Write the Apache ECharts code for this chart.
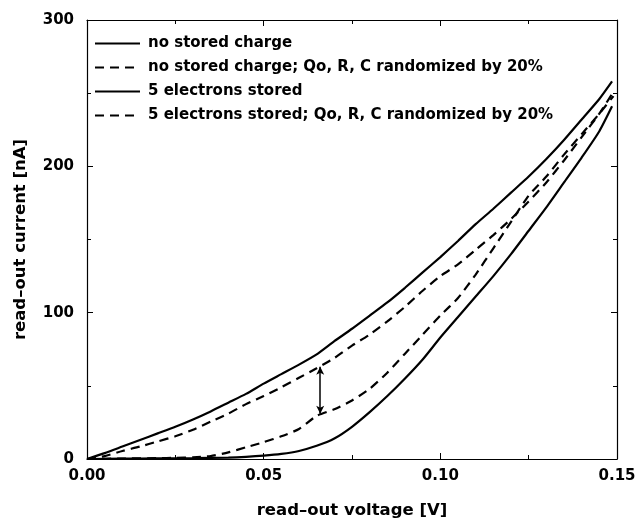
<!DOCTYPE html>
<html><head><meta charset="utf-8">
<script src="https://cdn.jsdelivr.net/npm/echarts@6/dist/echarts.min.js"></script>
<style>html,body{margin:0;padding:0;background:#fff}#c{width:642px;height:524px}</style>
</head><body><div id="c"></div><script>
const seriesNames = [
  'no stored charge',
  'no stored charge; Qo, R, C randomized by 20%',
  '5 electrons stored',
  '5 electrons stored; Qo, R, C randomized by 20%'
];
const xTicks = ['0.00', '0.05', '0.10', '0.15'];
const yTicks = ['0', '100', '200', '300'];

// no stored charge (solid)
const v1 = [0, 0.005, 0.01, 0.015, 0.02, 0.025, 0.03, 0.035, 0.04, 0.045, 0.05, 0.055, 0.06, 0.065, 0.07, 0.075, 0.08, 0.085, 0.09, 0.095, 0.10, 0.105, 0.11, 0.115, 0.12, 0.125, 0.13, 0.135, 0.14, 0.145, 0.1486];
const i1 = [0, 4, 8.5, 13, 17.5, 22, 27, 32.5, 38.5, 44.5, 51.5, 58, 64.5, 71.5, 80.5, 89, 98, 107, 117, 127.5, 138, 149, 160.5, 171, 182, 193, 205, 218, 232, 246, 258];

// no stored charge, randomized (dashed)
const v2 = [0, 0.005, 0.01, 0.015, 0.02, 0.025, 0.03, 0.035, 0.04, 0.045, 0.05, 0.055, 0.06, 0.065, 0.07, 0.075, 0.08, 0.085, 0.09, 0.095, 0.10, 0.105, 0.11, 0.115, 0.12, 0.125, 0.13, 0.135, 0.14, 0.145, 0.149];
const i2 = [0, 2, 5.5, 8.5, 12, 15.5, 20, 25.5, 31, 37.5, 43, 49, 55.5, 62, 69, 77.5, 85, 94, 104, 115, 125, 133, 143, 153, 164, 176, 189, 204, 220, 236, 251];

// 5 electrons stored (solid)
const v3 = [0, 0.01, 0.02, 0.03, 0.04, 0.045, 0.05, 0.055, 0.06, 0.065, 0.07, 0.075, 0.08, 0.085, 0.09, 0.095, 0.10, 0.105, 0.11, 0.115, 0.12, 0.125, 0.13, 0.135, 0.14, 0.145, 0.1486];
const i3 = [0, 0.2, 0.4, 0.6, 1, 1.5, 2.3, 3.5, 5.5, 9, 14, 22, 32, 43, 55, 68, 83, 97, 111, 125, 140, 156, 172, 189, 206, 224, 241];

// 5 electrons stored, randomized (dashed)
const v4 = [0, 0.01, 0.02, 0.025, 0.03, 0.035, 0.04, 0.045, 0.05, 0.055, 0.06, 0.065, 0.07, 0.075, 0.08, 0.085, 0.09, 0.095, 0.10, 0.105, 0.11, 0.115, 0.12, 0.125, 0.13, 0.135, 0.14, 0.145, 0.149];
const i4 = [0, 0.3, 0.6, 0.8, 1.2, 2, 4.5, 8, 11.5, 15.5, 20.5, 29.5, 34, 40, 48, 59, 72, 85, 98, 110, 126, 144, 162, 180, 193, 208, 222, 236, 248];

// double arrow between the dashed curves
const arrowV = 0.066;
const arrowTop = 63;
const arrowBottom = 31;

const FONT = '"DejaVu Sans", "Liberation Sans", Arial, sans-serif';
const pairs = (xs, ys) => xs.map((x, k) => [x, ys[k]]);
const dash = [9, 6];

const chart = echarts.init(document.getElementById('c'), null, {renderer: 'canvas'});

const commonX = {
  type: 'value', min: 0, max: 0.15, interval: 0.05,
  axisLine: {show: true, onZero: false, lineStyle: {color: '#000', width: 1.2}},
  axisTick: {show: true, inside: true, length: 6, lineStyle: {color: '#000'}},
  minorTick: {show: true, splitNumber: 2, length: 4, lineStyle: {color: '#000'}},
  splitLine: {show: false}, minorSplitLine: {show: false}
};
const commonY = {
  type: 'value', min: 0, max: 300, interval: 100,
  axisLine: {show: true, onZero: false, lineStyle: {color: '#000', width: 1.2}},
  axisTick: {show: true, inside: true, length: 6, lineStyle: {color: '#000'}},
  minorTick: {show: true, splitNumber: 2, length: 4, lineStyle: {color: '#000'}},
  splitLine: {show: false}, minorSplitLine: {show: false}
};

const lineTypes = ['solid', dash, 'solid', dash];
const datasets = [pairs(v1, i1), pairs(v2, i2), pairs(v3, i3), pairs(v4, i4)];

const series = datasets.map((d, k) => ({
  name: seriesNames[k], type: 'line', data: d, showSymbol: false, symbol: 'none',
  smooth: 0.2, xAxisIndex: 0, yAxisIndex: 0,
  lineStyle: {color: '#000', width: 2.2, type: lineTypes[k]},
  itemStyle: {color: '#000'},
  animation: false
}));
series[1].markLine = {
  silent: true, animation: false,
  symbol: ['arrow', 'arrow'], symbolSize: [6, 8],
  label: {show: false},
  lineStyle: {color: '#000', width: 1.5, type: 'solid'},
  data: [[{coord: [arrowV, arrowTop]}, {coord: [arrowV, arrowBottom]}]]
};

chart.setOption({
  backgroundColor: '#fff',
  animation: false,
  grid: {left: 87, right: 25, top: 20, bottom: 58, containLabel: false},
  legend: {
    orient: 'vertical', left: 89, top: 31,
    itemWidth: 45, itemHeight: 14, itemGap: 9,
    data: seriesNames,
    itemStyle: {opacity: 0},
    textStyle: {fontFamily: FONT, fontSize: 15, fontWeight: 'bold', color: '#000', padding: [0, 0, 0, 3]},
    selectedMode: false
  },
  xAxis: [
    Object.assign({}, commonX, {
      position: 'bottom',
      name: 'read\u2013out voltage [V]', nameLocation: 'middle', nameGap: 43,
      nameTextStyle: {fontFamily: FONT, fontSize: 16.5, fontWeight: 'bold', color: '#000'},
      axisLabel: {show: true, margin: 10, fontFamily: FONT, fontSize: 15, fontWeight: 'bold', color: '#000',
        formatter: (v) => xTicks[Math.round(v / 0.05)] || ''}
    }),
    Object.assign({}, commonX, {position: 'top', axisLabel: {show: false}})
  ],
  yAxis: [
    Object.assign({}, commonY, {
      position: 'left',
      name: 'read\u2013out current [nA]', nameLocation: 'middle', nameGap: 58, nameRotate: 90,
      nameTextStyle: {fontFamily: FONT, fontSize: 16.5, fontWeight: 'bold', color: '#000'},
      axisLabel: {show: true, margin: 13, fontFamily: FONT, fontSize: 15, fontWeight: 'bold', color: '#000',
        formatter: (v) => yTicks[Math.round(v / 100)] || ''}
    }),
    Object.assign({}, commonY, {position: 'right', axisLabel: {show: false}})
  ],
  series: series
});
</script></body></html>
